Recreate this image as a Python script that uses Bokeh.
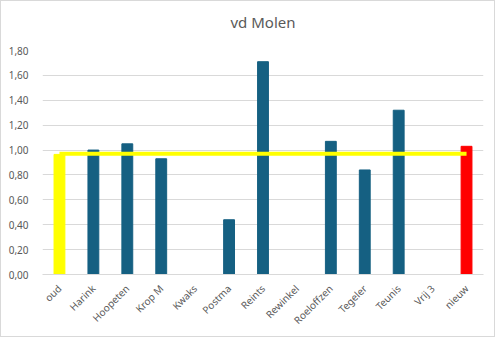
import math
from bokeh.plotting import figure
from bokeh.models import ColumnDataSource, CustomJSTickFormatter, FactorRange, Title
from bokeh.embed import file_html
from bokeh.resources import INLINE

categories = ["oud", "Harink", "Hoopeten", "Krop M", "Kwaks", "Postma", "Reints",
              "Rewinkel", "Roeloffzen", "Tegeler", "Teunis", "Vrij 3", "nieuw"]
values = [0.965, 1.00, 1.05, 0.93, None, 0.44, 1.71, None, 1.07, 0.84, 1.32, None, 1.03]
bar_colors = ["#FFFF00", "#156082", "#156082", "#156082", "#156082", "#156082", "#156082",
              "#156082", "#156082", "#156082", "#156082", "#156082", "#FF0000"]
line_values = [0.97] * 13
y_ticks = [0.0, 0.2, 0.4, 0.6, 0.8, 1.0, 1.2, 1.4, 1.6, 1.8]
title_text = "vd Molen"

FONT = "Noto Sans"
GRAY = "#595959"

bx, bt, bc = [], [], []
for c, v, col in zip(categories, values, bar_colors):
    if v is not None:
        bx.append(c); bt.append(v); bc.append(col)
src = ColumnDataSource(dict(x=bx, top=bt, color=bc))

p = figure(x_range=FactorRange(*categories), y_range=(0, 1.8),
           width=495, height=337, output_backend="svg", toolbar_location=None)
p.styles = {"border": "1px solid #d9d9d9"}
p.min_border_left = 41
p.min_border_right = 13
p.min_border_top = 49
p.min_border_bottom = 64
p.outline_line_color = None
p.background_fill_color = "white"
p.border_fill_color = "white"

# spacer (closest to the frame), then the real title above it
p.add_layout(Title(text=" ", text_font_size="11px", standoff=0), "above")
p.add_layout(Title(text=title_text, align="center", offset=-15, text_font=FONT,
                   text_font_size="15px", text_font_style="normal",
                   text_color=GRAY), "above")

p.vbar(x="x", top="top", width=0.32, color="color", source=src)
p.line(x=categories, y=line_values, line_color="#FFFF00", line_width=4)

p.xgrid.grid_line_color = None
p.ygrid.grid_line_color = "#d9d9d9"
p.ygrid.grid_line_width = 1
p.yaxis.ticker = y_ticks
p.yaxis.formatter = CustomJSTickFormatter(code="return tick.toFixed(2).replace('.', ',');")
p.yaxis.axis_line_color = None
p.yaxis.major_tick_line_color = None
p.yaxis.minor_tick_line_color = None
p.xaxis.axis_line_color = "#d9d9d9"
p.xaxis.major_tick_line_color = None
p.xaxis.minor_tick_line_color = None
p.xaxis.major_label_orientation = math.pi / 4
for ax in (p.xaxis[0], p.yaxis[0]):
    ax.major_label_text_font = FONT
    ax.major_label_text_font_size = "10px"
    ax.major_label_text_color = GRAY
p.yaxis.major_label_standoff = 8
p.xaxis.major_label_standoff = 6

open("out.html", "w").write(file_html(p, INLINE))
